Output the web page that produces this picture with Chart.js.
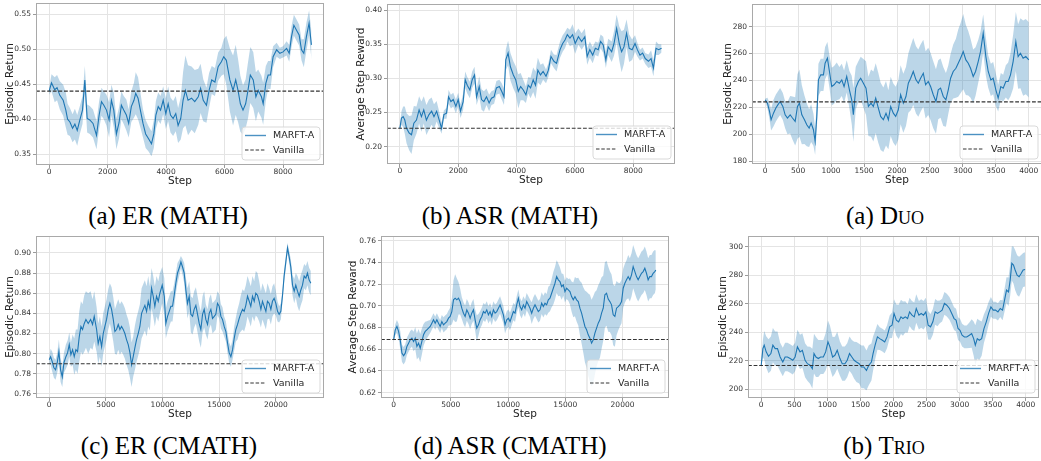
<!DOCTYPE html>
<html><head><meta charset="utf-8">
<script src="https://cdn.jsdelivr.net/npm/chart.js@4.4.0/dist/chart.umd.min.js"></script>
<style>
html,body{margin:0;padding:0;background:#fff}
body{width:1041px;height:461px;position:relative;overflow:hidden}
canvas{position:absolute}
.cap{position:absolute;font-family:"Liberation Serif","Times New Roman",serif;font-size:25px;color:#000;transform:translate(-50%,-50%);white-space:nowrap}
.sc{font-variant:small-caps}
</style></head><body>
<canvas id="c1"></canvas><canvas id="c2"></canvas><canvas id="c3"></canvas>
<canvas id="c4"></canvas><canvas id="c5"></canvas><canvas id="c6"></canvas>
<div class="cap" style="left:168px;top:216px">(a) ER (MATH)</div>
<div class="cap" style="left:510px;top:216px">(b) ASR (MATH)</div>
<div class="cap" style="left:885px;top:216px">(a) <span class="sc">Duo</span></div>
<div class="cap" style="left:169px;top:446px">(c) ER (CMATH)</div>
<div class="cap" style="left:510px;top:446px">(d) ASR (CMATH)</div>
<div class="cap" style="left:884px;top:446px">(b) <span class="sc">Trio</span></div>
<script>
// ---------- DATA ----------
const seriesNames = ['MARFT-A', 'Vanilla'];

// (a) ER (MATH)
const erMathSteps = [0,80,190,270,365,480,570,630,710,800,880,960,1050,1140,1220,1300,1390,1500,1620,1710,1790,1870,1960,2050,2130,2210,2300,2390,2470,2550,2640,2720,2810,2900,2960,3040,3120,3210,3300,3400,3500,3580,3650,3730,3810,3900,3990,4070,4150,4240,4330,4410,4500,4580,4660,4750,4870,4980,5100,5180,5270,5380,5470,5560,5670,5780,5890,5970,6060,6180,6290,6380,6460,6540,6630,6720,6800,6880,6980,7070,7150,7260,7320,7410,7490,7570,7660,7780,7890,8000,8120,8210,8290,8370,8460,8550,8630,8710,8800,8890,8970];
const erMathMean = [0.440,0.452,0.442,0.445,0.434,0.427,0.413,0.400,0.396,0.387,0.393,0.384,0.399,0.413,0.456,0.401,0.399,0.394,0.377,0.406,0.425,0.420,0.413,0.399,0.427,0.413,0.379,0.395,0.420,0.413,0.406,0.394,0.418,0.427,0.437,0.430,0.413,0.394,0.379,0.372,0.365,0.379,0.406,0.418,0.413,0.427,0.408,0.422,0.406,0.401,0.408,0.391,0.401,0.427,0.441,0.427,0.430,0.425,0.432,0.444,0.427,0.420,0.441,0.456,0.453,0.475,0.482,0.489,0.484,0.456,0.441,0.456,0.441,0.422,0.413,0.422,0.441,0.463,0.456,0.432,0.441,0.432,0.422,0.451,0.463,0.463,0.489,0.499,0.494,0.496,0.501,0.494,0.518,0.534,0.527,0.520,0.499,0.494,0.518,0.537,0.506];
const erMathSpread = [0.005,0.012,0.018,0.018,0.02,0.022,0.025,0.022,0.02,0.02,0.022,0.022,0.02,0.02,0.02,0.02,0.02,0.02,0.02,0.02,0.02,0.02,0.022,0.025,0.022,0.025,0.022,0.022,0.02,0.02,0.022,0.02,0.022,0.025,0.03,0.03,0.025,0.02,0.02,0.018,0.018,0.02,0.02,0.02,0.02,0.02,0.022,0.025,0.025,0.025,0.025,0.025,0.03,0.04,0.05,0.05,0.045,0.045,0.04,0.035,0.03,0.025,0.025,0.02,0.02,0.02,0.02,0.025,0.035,0.045,0.05,0.05,0.045,0.04,0.035,0.035,0.04,0.04,0.04,0.035,0.03,0.03,0.03,0.025,0.02,0.02,0.015,0.01,0.008,0.008,0.01,0.012,0.015,0.015,0.015,0.015,0.015,0.02,0.02,0.018,0.02];
const erMathVanilla = 0.44;
const erMathXTicks = [0,2000,4000,6000,8000];
const erMathYTicks = [0.35,0.40,0.45,0.50,0.55];

// (b) ASR (MATH)
const asrMathSteps = [0,57,114,170,230,320,400,480,570,660,740,820,910,1000,1090,1170,1260,1350,1430,1510,1600,1670,1750,1830,1920,2000,2080,2170,2240,2310,2400,2480,2560,2630,2720,2800,2880,2970,3060,3140,3230,3310,3410,3490,3570,3630,3710,3790,3890,3970,4060,4140,4230,4320,4400,4480,4570,4650,4730,4820,4910,5010,5090,5180,5280,5370,5490,5580,5660,5740,5830,5920,6010,6120,6230,6340,6420,6510,6610,6700,6800,6880,6970,7060,7140,7260,7340,7430,7520,7600,7680,7770,7860,7960,8060,8140,8230,8320,8410,8520,8610,8690,8780,8870,8970];
const asrMathMean = [0.227,0.242,0.244,0.239,0.227,0.220,0.2175,0.2345,0.239,0.254,0.244,0.254,0.239,0.247,0.252,0.244,0.252,0.239,0.227,0.247,0.249,0.273,0.266,0.269,0.259,0.269,0.252,0.266,0.298,0.290,0.283,0.298,0.305,0.273,0.288,0.269,0.266,0.273,0.264,0.271,0.273,0.286,0.288,0.281,0.273,0.327,0.337,0.317,0.305,0.298,0.281,0.288,0.283,0.276,0.290,0.286,0.298,0.290,0.312,0.305,0.310,0.303,0.312,0.332,0.325,0.322,0.342,0.351,0.356,0.364,0.359,0.364,0.351,0.361,0.354,0.361,0.332,0.342,0.334,0.344,0.342,0.354,0.349,0.327,0.346,0.339,0.351,0.373,0.351,0.339,0.346,0.366,0.344,0.342,0.351,0.342,0.334,0.337,0.329,0.325,0.329,0.315,0.344,0.342,0.344];
const asrMathSpread = [0.003,0.01,0.015,0.02,0.022,0.025,0.028,0.025,0.02,0.02,0.022,0.02,0.022,0.022,0.02,0.018,0.015,0.012,0.008,0.006,0.008,0.01,0.01,0.01,0.01,0.01,0.01,0.012,0.012,0.012,0.012,0.012,0.012,0.012,0.015,0.015,0.015,0.012,0.012,0.01,0.01,0.01,0.01,0.012,0.012,0.015,0.018,0.02,0.02,0.02,0.025,0.02,0.015,0.012,0.012,0.015,0.018,0.02,0.018,0.015,0.012,0.01,0.01,0.01,0.01,0.012,0.012,0.012,0.012,0.01,0.012,0.015,0.015,0.012,0.012,0.012,0.012,0.012,0.012,0.01,0.01,0.01,0.012,0.012,0.012,0.015,0.018,0.02,0.025,0.03,0.025,0.02,0.02,0.015,0.012,0.01,0.008,0.008,0.008,0.01,0.012,0.012,0.01,0.008,0.006];
const asrMathVanilla = 0.227;
const asrMathXTicks = [0,2000,4000,6000,8000];
const asrMathYTicks = [0.20,0.25,0.30,0.35,0.40];

// (a) Duo
const duoSteps = [0,35,66,90,126,162,192,227,268,303,338,379,414,455,490,520,556,596,631,667,697,732,758,783,808,843,884,909,944,975,1010,1045,1086,1126,1162,1197,1237,1278,1313,1338,1374,1414,1449,1490,1530,1566,1606,1641,1677,1717,1752,1793,1833,1869,1904,1944,1980,2020,2055,2096,2136,2172,2207,2247,2288,2323,2358,2399,2434,2474,2510,2550,2591,2626,2661,2702,2742,2778,2813,2853,2894,2929,2964,3005,3045,3081,3116,3156,3192,3232,3267,3308,3348,3384,3424,3459,3500,3535,3575,3611,3651,3687,3722,3762,3803,3838,3873,3914,3954,4000];
const duoMean = [225.5,223,217,210.7,215.6,219.4,221.8,224.3,220.6,214.4,212,214.4,212,209.5,220.6,223,214.4,210.7,207,204.5,208.2,203.3,194.6,213.2,240.4,244.1,244.1,252.8,256.5,246.6,235.4,236.7,239.2,237.9,240.4,235.4,242.9,233,225.5,214.4,234.2,239.2,241.6,237.9,234.2,220.6,223,220.6,226.8,219.4,213.2,210.7,215.6,210.7,220.6,215.6,213.2,218.1,229.3,223,228,237.9,241.6,246.6,240.4,237.9,241.6,245.3,236.7,239.2,235.4,229.3,224.3,233,234.2,228,225.5,233,241.6,246.6,249,252.8,256.5,261.4,255.2,252.8,249,242.9,246.6,254,261.4,275,257.7,246.6,240.4,241.6,233,226.8,235.4,234.2,239.2,239.2,244.1,254,268.9,257.7,260.2,256.5,257.7,255.2];
const duoSpread = [1,4,6,8,10,10,10,10,10,10,12,14,16,18,24,25,22,18,16,14,14,12,10,10,12,12,12,12,12,12,14,14,14,12,12,12,12,14,18,20,16,15,16,18,20,22,25,26,26,26,25,24,24,22,22,22,22,22,22,22,22,22,24,25,25,25,25,25,25,25,25,25,24,22,22,22,20,18,18,20,22,25,26,28,26,24,22,20,18,16,15,14,14,12,12,12,12,10,10,10,12,14,16,20,22,24,26,28,28,28];
const duoVanilla = 224;
const duoXTicks = [0,500,1000,1500,2000,2500,3000,3500,4000];
const duoYTicks = [180,200,220,240,260,280];

// (c) ER (CMATH)
const erCmathSteps = [0,120,265,410,560,705,850,1000,1150,1295,1470,1620,1765,1910,2060,2205,2350,2500,2650,2795,2940,3090,3235,3440,3650,3820,3970,4180,4320,4470,4620,4765,4910,5060,5205,5350,5500,5650,5795,5940,6090,6235,6380,6530,6675,6820,6970,7120,7265,7410,7560,7705,7850,8000,8150,8290,8440,8590,8735,8880,9030,9175,9320,9470,9620,9765,9970,10150,10290,10440,10590,10735,10880,11030,11175,11320,11470,11620,11765,11910,12060,12200,12350,12500,12650,12790,12940,13090,13235,13380,13530,13675,13820,13970,14120,14265,14410,14560,14700,14850,15000,15150,15290,15440,15590,15730,15880,16030,16180,16320,16470,16620,16765,16910,17060,17200,17350,17500,17650,17790,17940,18090,18230,18380,18530,18680,18820,18970,19120,19260,19410,19560,19700,19850,20000,20150,20290,20440,20590,20730,20880,21030,21175,21320,21470,21620,21760,21910,22060,22200,22350,22500,22650,22790,22940,23090];
const erCmathMean = [0.794,0.797,0.792,0.786,0.784,0.791,0.802,0.784,0.777,0.791,0.797,0.801,0.809,0.799,0.804,0.797,0.804,0.802,0.817,0.827,0.824,0.830,0.834,0.830,0.834,0.829,0.837,0.824,0.810,0.817,0.807,0.820,0.827,0.834,0.844,0.850,0.844,0.834,0.822,0.824,0.829,0.824,0.827,0.824,0.820,0.814,0.809,0.801,0.789,0.797,0.806,0.814,0.820,0.827,0.840,0.844,0.848,0.842,0.852,0.845,0.865,0.857,0.847,0.857,0.852,0.860,0.868,0.857,0.830,0.837,0.842,0.847,0.847,0.858,0.870,0.880,0.885,0.891,0.886,0.880,0.863,0.850,0.857,0.839,0.837,0.844,0.848,0.839,0.830,0.824,0.839,0.844,0.834,0.829,0.840,0.844,0.835,0.837,0.839,0.850,0.847,0.837,0.834,0.827,0.822,0.811,0.801,0.797,0.804,0.815,0.824,0.829,0.835,0.840,0.844,0.842,0.848,0.857,0.852,0.847,0.857,0.852,0.860,0.858,0.852,0.844,0.852,0.847,0.842,0.852,0.850,0.844,0.852,0.855,0.850,0.842,0.839,0.842,0.858,0.877,0.891,0.905,0.896,0.886,0.868,0.862,0.868,0.862,0.857,0.863,0.868,0.877,0.875,0.880,0.873,0.870];
const erCmathSpread = [0.004,0.008,0.01,0.01,0.01,0.01,0.012,0.012,0.01,0.01,0.012,0.012,0.012,0.012,0.015,0.018,0.02,0.022,0.025,0.025,0.025,0.028,0.028,0.03,0.028,0.025,0.025,0.022,0.02,0.02,0.02,0.02,0.02,0.02,0.02,0.02,0.022,0.022,0.022,0.025,0.025,0.025,0.025,0.025,0.025,0.025,0.025,0.025,0.022,0.02,0.022,0.022,0.022,0.022,0.025,0.025,0.025,0.025,0.025,0.022,0.02,0.02,0.02,0.02,0.02,0.02,0.018,0.018,0.015,0.015,0.015,0.015,0.015,0.012,0.01,0.01,0.008,0.006,0.008,0.01,0.012,0.015,0.015,0.018,0.018,0.018,0.018,0.018,0.018,0.018,0.018,0.018,0.015,0.015,0.015,0.015,0.015,0.015,0.015,0.012,0.012,0.012,0.012,0.01,0.01,0.01,0.01,0.01,0.01,0.012,0.012,0.015,0.015,0.018,0.02,0.02,0.02,0.02,0.02,0.02,0.02,0.02,0.022,0.022,0.02,0.018,0.018,0.018,0.018,0.018,0.015,0.015,0.015,0.015,0.012,0.01,0.008,0.008,0.006,0.006,0.006,0.005,0.006,0.008,0.01,0.012,0.012,0.015,0.015,0.015,0.015,0.012,0.012,0.012,0.012,0.012];
const erCmathVanilla = 0.79;
const erCmathXTicks = [0,5000,10000,15000,20000];
const erCmathYTicks = [0.76,0.78,0.80,0.82,0.84,0.86,0.88,0.90];

// (d) ASR (CMATH)
const asrCmathSteps = [0,145,290,436,581,727,872,1017,1163,1308,1453,1599,1744,1890,2035,2180,2326,2471,2616,2762,2907,3052,3198,3343,3488,3634,3779,3924,4070,4215,4360,4506,4651,4797,4942,5087,5233,5378,5523,5669,5814,5959,6105,6250,6395,6541,6686,6831,6977,7122,7267,7413,7558,7704,7849,7994,8140,8285,8430,8576,8721,8866,9012,9157,9302,9448,9593,9738,9884,10029,10174,10320,10465,10610,10756,10901,11046,11192,11337,11482,11628,11773,11918,12064,12209,12355,12500,12645,12791,12936,13081,13227,13372,13517,13663,13808,13953,14099,14244,14390,14535,14680,14826,14971,15116,15262,15407,15552,15698,15843,15988,16134,16279,16424,16570,16715,16860,17006,17151,17297,17442,17587,17733,17878,18023,18169,18314,18459,18605,18750,18895,19041,19186,19331,19477,19622,19767,19913,20058,20203,20349,20494,20640,20785,20930,21076,21221,21366,21512,21657,21802,21948,22093,22238,22384,22529,22674,22820,22907];
const asrCmathMean = [0.6687,0.6779,0.681,0.6764,0.6687,0.6564,0.654,0.6564,0.6626,0.6656,0.6687,0.6702,0.6672,0.6702,0.6626,0.6656,0.661,0.6672,0.6733,0.6764,0.6779,0.6794,0.681,0.684,0.6871,0.684,0.6871,0.684,0.681,0.6855,0.6825,0.684,0.6855,0.6886,0.6902,0.6947,0.7055,0.707,0.7055,0.707,0.7039,0.6978,0.6932,0.6902,0.6963,0.6932,0.6886,0.6932,0.6963,0.6871,0.6794,0.6825,0.6871,0.6902,0.6947,0.6932,0.6963,0.6917,0.6947,0.6902,0.6963,0.6932,0.6947,0.6978,0.7009,0.6963,0.6917,0.6825,0.6871,0.6886,0.6855,0.6902,0.6947,0.6932,0.7009,0.707,0.6993,0.6963,0.7009,0.6978,0.7039,0.7009,0.6978,0.6932,0.6978,0.7009,0.6978,0.6947,0.6963,0.7024,0.6993,0.7024,0.7009,0.7055,0.707,0.7116,0.7162,0.7208,0.7269,0.7239,0.7223,0.7177,0.7193,0.7131,0.7162,0.7147,0.7131,0.7085,0.7055,0.7085,0.7055,0.7039,0.6978,0.6932,0.6871,0.681,0.6779,0.6733,0.6702,0.6656,0.6687,0.6748,0.6794,0.684,0.6871,0.6932,0.6978,0.7101,0.7116,0.7062,0.7039,0.7009,0.6917,0.6902,0.6978,0.6993,0.7009,0.7039,0.7162,0.7208,0.7239,0.7269,0.7239,0.7285,0.7361,0.7315,0.7269,0.7239,0.7269,0.73,0.7315,0.7346,0.73,0.7239,0.7269,0.7269,0.73,0.7315,0.733];
const asrCmathSpread = [0.003,0.005,0.006,0.007,0.008,0.008,0.008,0.008,0.008,0.008,0.008,0.008,0.009,0.01,0.012,0.013,0.013,0.012,0.01,0.009,0.008,0.007,0.006,0.006,0.006,0.006,0.006,0.006,0.006,0.006,0.007,0.007,0.007,0.007,0.008,0.012,0.018,0.022,0.02,0.015,0.012,0.01,0.01,0.01,0.01,0.01,0.01,0.01,0.01,0.01,0.012,0.01,0.008,0.008,0.008,0.008,0.008,0.008,0.008,0.008,0.008,0.008,0.008,0.008,0.008,0.008,0.008,0.008,0.008,0.008,0.008,0.008,0.008,0.008,0.008,0.008,0.008,0.008,0.008,0.008,0.008,0.008,0.008,0.01,0.01,0.01,0.01,0.01,0.01,0.01,0.01,0.01,0.01,0.012,0.012,0.013,0.015,0.015,0.015,0.015,0.013,0.012,0.01,0.01,0.01,0.01,0.012,0.014,0.016,0.018,0.02,0.022,0.025,0.028,0.03,0.033,0.035,0.038,0.04,0.04,0.04,0.038,0.035,0.035,0.035,0.033,0.03,0.03,0.03,0.03,0.028,0.028,0.028,0.028,0.025,0.022,0.02,0.02,0.018,0.018,0.018,0.02,0.02,0.02,0.02,0.02,0.02,0.02,0.02,0.02,0.02,0.02,0.02,0.02,0.02,0.02,0.02,0.02,0.018];
const asrCmathVanilla = 0.669;
const asrCmathXTicks = [0,5000,10000,15000,20000];
const asrCmathYTicks = [0.62,0.64,0.66,0.68,0.70,0.72,0.74,0.76];

// (b) Trio
const trioSteps = [0,25,45,75,110,146,176,211,246,286,326,361,397,437,477,512,547,587,622,663,698,738,773,798,828,863,898,939,974,1009,1039,1079,1114,1149,1190,1225,1265,1300,1335,1370,1405,1440,1481,1516,1551,1591,1626,1666,1691,1722,1757,1792,1832,1867,1902,1942,1978,2008,2043,2078,2113,2143,2178,2213,2243,2279,2314,2344,2384,2419,2454,2489,2524,2560,2595,2630,2665,2700,2735,2770,2806,2846,2881,2916,2946,2976,3006,3037,3072,3107,3147,3182,3212,3237,3267,3297,3333,3368,3403,3438,3473,3508,3543,3579,3614,3649,3679,3709,3739,3764,3789,3814,3839,3869,3899,3930,3960,3990];
const trioMean = [216.7,228.4,230.8,226.1,223,224.9,230.8,228.4,228.4,222.5,219,222.5,222.5,221.4,220.2,222.5,229.6,226.1,227.2,220.2,217.8,216.7,214.3,224.9,222.5,221.4,222.5,222.5,226.1,233.1,229.6,222.5,223.7,227.2,221.4,217.8,217.8,220.2,224.9,222.5,220.2,219,217.8,215.5,215.5,213.1,216.7,219,224.9,230.8,236.6,235.4,234.3,233.1,236.6,243.7,244.8,253.1,248.4,247.2,250.7,249.5,250.7,249.5,254.2,251.9,250.7,256.6,251.9,253.1,251.9,254.2,244.8,243.7,247.2,254.2,253.1,254.2,255.4,260.1,258.9,256.6,253.1,249.5,248.4,242.5,241.3,237.8,236.6,236.6,237.8,239,235.4,230.8,235.4,234.3,235.4,242.5,247.2,253.1,257.7,255.4,255.4,254.2,256.6,255.4,262.4,269.5,268.3,276.5,288.3,287.1,283.6,280,278.9,281.2,283.6,284];
const trioSpread = [1,6,10,11,12,12,12,12,12,10,10,10,10,10,10,10,12,12,12,12,12,13,14,14,14,13,12,12,13,15,15,14,13,13,12,12,12,12,12,12,13,14,14,15,15,14,14,13,12,10,9,8,8,8,8,8,9,10,11,12,12,12,11,10,10,10,10,10,10,10,10,10,10,9,9,9,9,8,8,8,8,8,8,8,8,8,8,8,8,8,9,10,12,14,14,14,12,10,9,8,7,6,6,6,6,7,8,9,10,11,12,13,14,14,14,13,12,12];
const trioVanilla = 216.5;
const trioXTicks = [0,500,1000,1500,2000,2500,3000,3500,4000];
const trioYTicks = [200,220,240,260,280,300];

// ---------- RENDERING ----------
const LINE = '#1f77b4', BAND = 'rgba(31,119,180,0.3)';
const FONT = '"DejaVu Sans", sans-serif';

const framePlugin = {
  id: 'frame',
  afterDatasetsDraw(chart) {
    const {ctx, chartArea: a} = chart;
    ctx.save();
    ctx.strokeStyle = '#a9a9a9';
    ctx.lineWidth = 1;
    ctx.strokeRect(Math.round(a.left) + 0.5, Math.round(a.top) + 0.5, Math.round(a.width) - 1, Math.round(a.height) - 1);
    ctx.restore();
  }
};

const legendPlugin = {
  id: 'boxLegend',
  afterDraw(chart) {
    const {ctx, chartArea: a} = chart;
    const bw = 78, bh = 33;
    const x = a.right - 4 - bw, y = a.bottom - 5 - bh, r = 3;
    ctx.save();
    ctx.beginPath();
    ctx.moveTo(x + r, y); ctx.lineTo(x + bw - r, y); ctx.quadraticCurveTo(x + bw, y, x + bw, y + r);
    ctx.lineTo(x + bw, y + bh - r); ctx.quadraticCurveTo(x + bw, y + bh, x + bw - r, y + bh);
    ctx.lineTo(x + r, y + bh); ctx.quadraticCurveTo(x, y + bh, x, y + bh - r);
    ctx.lineTo(x, y + r); ctx.quadraticCurveTo(x, y, x + r, y); ctx.closePath();
    ctx.fillStyle = 'rgba(255,255,255,0.8)'; ctx.fill();
    ctx.strokeStyle = '#d9d9d9'; ctx.lineWidth = 1; ctx.stroke();
    const r1 = y + 8.5, r2 = y + 23;
    ctx.strokeStyle = 'rgba(31,119,180,0.8)'; ctx.lineWidth = 1.4;
    ctx.beginPath(); ctx.moveTo(x + 3, r1); ctx.lineTo(x + 24, r1); ctx.stroke();
    ctx.strokeStyle = '#333'; ctx.lineWidth = 1; ctx.setLineDash([3.5, 1.8]);
    ctx.beginPath(); ctx.moveTo(x + 3, r2); ctx.lineTo(x + 24, r2); ctx.stroke();
    ctx.setLineDash([]);
    ctx.fillStyle = '#262626'; ctx.font = '9.5px ' + FONT; ctx.textBaseline = 'middle'; ctx.textAlign = 'left';
    ctx.fillText(seriesNames[0], x + 31, r1 + 0.5);
    ctx.fillText(seriesNames[1], x + 31, r2 + 0.5);
    ctx.restore();
  }
};

function pts(steps, vals) { return steps.map((s, i) => ({x: s, y: vals[i]})); }

function makeChart(id, f, d) {
  const yW = 34, padT = 3, padR = 6, xH = 24;
  const cv = document.getElementById(id);
  const w = f.R - f.L + yW + padR, h = f.B - f.T + padT + xH;
  cv.width = w; cv.height = h;
  cv.style.width = w + 'px'; cv.style.height = h + 'px';
  cv.style.left = (f.L - yW) + 'px'; cv.style.top = (f.T - padT) + 'px';
  const upper = d.mean.map((m, i) => m + d.spread[i]);
  const lower = d.mean.map((m, i) => m - d.spread[i]);
  const tickFont = {family: FONT, size: 7.5};
  new Chart(cv, {
    type: 'line',
    data: {
      datasets: [
        {data: [{x: d.xMin, y: d.vanilla}, {x: d.xMax, y: d.vanilla}], borderColor: '#333', borderWidth: 1.1, borderDash: [3.8, 1.8], pointRadius: 0, fill: false, order: 0},
        {data: pts(d.steps, d.mean), borderColor: LINE, borderWidth: 1.1, pointRadius: 0, fill: false, order: 1},
        {data: pts(d.steps, upper), borderWidth: 0, borderColor: 'rgba(0,0,0,0)', pointRadius: 0, backgroundColor: BAND, fill: '+1', order: 2},
        {data: pts(d.steps, lower), borderWidth: 0, borderColor: 'rgba(0,0,0,0)', pointRadius: 0, fill: false, order: 3}
      ]
    },
    options: {
      responsive: false, animation: false, devicePixelRatio: 1,
      layout: {padding: {left: 0, top: padT, right: padR, bottom: 0}},
      plugins: {legend: {display: false}, tooltip: {enabled: false}},
      elements: {line: {tension: 0}},
      scales: {
        x: {
          type: 'linear', min: d.xMin, max: d.xMax,
          afterBuildTicks: s => { s.ticks = d.xTicks.map(v => ({value: v})); },
          afterFit: s => { s.height = xH; s.paddingLeft = 0; s.paddingRight = 0; },
          ticks: {font: tickFont, color: '#333', padding: 0, maxRotation: 0, autoSkip: false, callback: v => String(v)},
          grid: {color: '#e4e4e4', lineWidth: 1, tickLength: 3, tickColor: '#9a9a9a', drawTicks: true},
          border: {display: false},
          title: {display: true, text: 'Step', font: {family: FONT, size: 10.5}, color: '#222', padding: {top: 0, bottom: d.xtPad}}
        },
        y: {
          type: 'linear', min: d.yMin, max: d.yMax,
          afterBuildTicks: s => { s.ticks = d.yTicks.map(v => ({value: v})); },
          afterFit: s => { s.width = yW; s.paddingTop = 0; s.paddingBottom = 0; },
          ticks: {font: tickFont, color: '#333', padding: 2, autoSkip: false, callback: v => d.dec ? Number(v).toFixed(d.dec) : String(v)},
          grid: {color: '#e4e4e4', lineWidth: 1, tickLength: 3, tickColor: '#9a9a9a', drawTicks: true},
          border: {display: false},
          title: {display: true, text: d.ylabel, font: {family: FONT, size: 10.5}, color: '#222', padding: {top: d.ytPad, bottom: 0}}
        }
      }
    },
    plugins: [framePlugin, legendPlugin]
  });
}

makeChart('c1', {L: 36, T: 3, R: 324, B: 165}, {steps: erMathSteps, mean: erMathMean, spread: erMathSpread, vanilla: erMathVanilla, xTicks: erMathXTicks, yTicks: erMathYTicks, xMin: -450, xMax: 9400, yMin: 0.3347, yMax: 0.5657, dec: 2, ylabel: 'Episodic Return', ytPad: 1.7, xtPad: 1});
makeChart('c2', {L: 387, T: 4, R: 675, B: 164}, {steps: asrMathSteps, mean: asrMathMean, spread: asrMathSpread, vanilla: asrMathVanilla, xTicks: asrMathXTicks, yTicks: asrMathYTicks, xMin: -440, xMax: 9430, yMin: 0.1747, yMax: 0.4088, dec: 2, ylabel: 'Average Step Reward', ytPad: 1.7, xtPad: 1});
makeChart('c3', {L: 752, T: 4, R: 1042, B: 164}, {steps: duoSteps, mean: duoMean, spread: duoSpread, vanilla: duoVanilla, xTicks: duoXTicks, yTicks: duoYTicks, xMin: -200, xMax: 4200, yMin: 177.8, yMax: 296.8, dec: 0, ylabel: 'Episodic Return', ytPad: 3.7, xtPad: 1});
makeChart('c4', {L: 36, T: 236, R: 324, B: 398}, {steps: erCmathSteps, mean: erCmathMean, spread: erCmathSpread, vanilla: erCmathVanilla, xTicks: erCmathXTicks, yTicks: erCmathYTicks, xMin: -1170, xMax: 24250, yMin: 0.756, yMax: 0.9168, dec: 2, ylabel: 'Episodic Return', ytPad: 1.7, xtPad: 1.3});
makeChart('c5', {L: 381, T: 236, R: 669, B: 398}, {steps: asrCmathSteps, mean: asrCmathMean, spread: asrCmathSpread, vanilla: asrCmathVanilla, xTicks: asrCmathXTicks, yTicks: asrCmathYTicks, xMin: -1100, xMax: 24060, yMin: 0.6151, yMax: 0.7643, dec: 2, ylabel: 'Average Step Reward', ytPad: 0, xtPad: 1.3});
makeChart('c6', {L: 748, T: 236, R: 1039, B: 398}, {steps: trioSteps, mean: trioMean, spread: trioSpread, vanilla: trioVanilla, xTicks: trioXTicks, yTicks: trioYTicks, xMin: -200, xMax: 4200, yMin: 193.7, yMax: 307.5, dec: 0, ylabel: 'Episodic Return', ytPad: 3, xtPad: 1.3});
</script>
</body></html>
